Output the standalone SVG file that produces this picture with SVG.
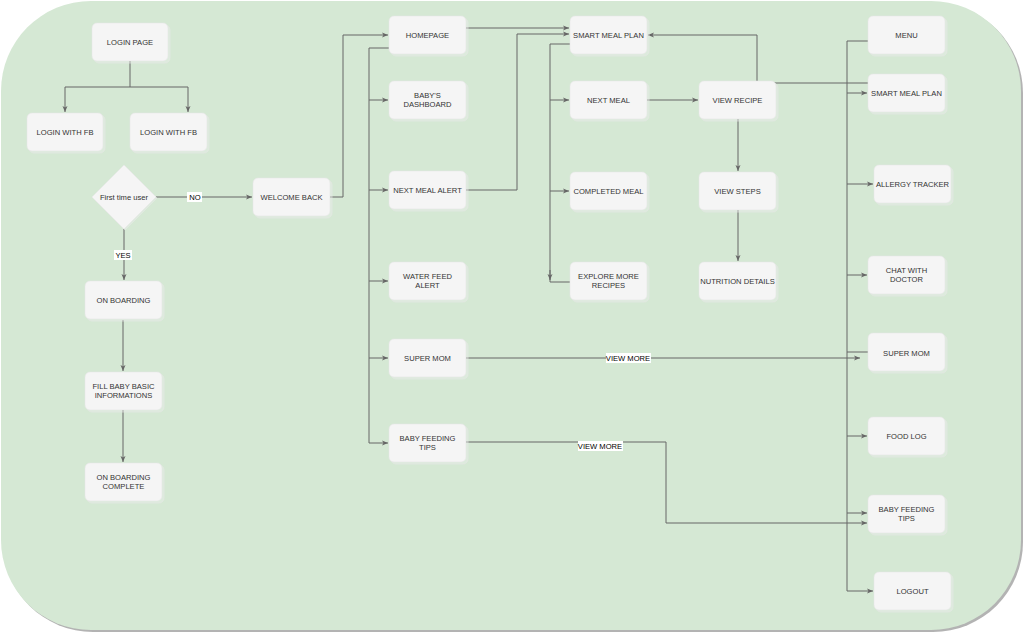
<svg xmlns="http://www.w3.org/2000/svg" width="1024" height="633" viewBox="0 0 1024 633">
<style>
.bg{fill:#d5e8d4}
.bgs{fill:#b3b3b3}
.n rect,.n polygon{fill:#f5f5f5;stroke:#e6e6e6;stroke-width:0.6}
.sh{fill:#000;fill-opacity:0.28}
text{font-family:"Liberation Sans",Arial,sans-serif;font-size:7.6px;fill:#333;text-anchor:middle}
.e path{fill:none;stroke:#666;stroke-width:1}
.a{marker-end:url(#arr)}
.lb{fill:#fff}
.lt{fill:#000}
</style>
<defs>
<marker id="arr" markerUnits="userSpaceOnUse" markerWidth="7" markerHeight="7" refX="6" refY="3" orient="auto">
<path d="M0,0.5 L6,3 L0,5.5 L1.5,3 z" fill="#666"/>
</marker>
</defs>
<rect class="bgs" x="3" y="3" width="1020" height="629" rx="90" ry="90"/>
<rect class="bg" x="1" y="1" width="1020" height="629" rx="90" ry="90"/>

<g id="connectors" class="e">
<path d="M130,61 V87 H65 V112" class="a"/>
<path d="M130,87 H188 V112" class="a"/>
<path d="M156,197 H252" class="a"/>
<path d="M124,229 V280" class="a"/>
<path d="M123,320 V371" class="a"/>
<path d="M123,410 V462" class="a"/>
<path d="M330,197 H343 V35 H388" class="a"/>
<path d="M389,48 H369 V443 H388" class="a"/>
<path d="M369,100 H388" class="a"/>
<path d="M369,190 H388" class="a"/>
<path d="M369,281 H388" class="a"/>
<path d="M369,358 H388" class="a"/>
<path d="M466,28 H569" class="a"/>
<path d="M466,190 H517 V34 H569" class="a"/>
<path d="M570,44 H550 V282 H570"/>
<path d="M550,270 V280" class="a"/>
<path d="M550,100 H569" class="a"/>
<path d="M550,191 H569" class="a"/>
<path d="M647,100 H698" class="a"/>
<path d="M738,119 V171" class="a"/>
<path d="M738,210 V261" class="a"/>
<path d="M868,83 H757 V35 H648" class="a"/>
<path d="M868,41 H847 V591 H873" class="a"/>
<path d="M847,93 H867" class="a"/>
<path d="M847,184 H873" class="a"/>
<path d="M847,275 H867" class="a"/>
<path d="M847,352 H868"/>
<path d="M847,436 H867" class="a"/>
<path d="M847,513 H867" class="a"/>
<path d="M466,358 H860" class="a"/>
<path d="M466,442 H666 V523 H867" class="a"/>
<rect class="lb" x="187" y="192" width="15" height="10"/>
<text x="195" y="200" class="lt">NO</text>
<rect class="lb" x="114" y="250" width="18" height="10"/>
<text x="123" y="258" class="lt">YES</text>
<rect class="lb" x="606" y="353" width="45" height="10"/>
<text x="628" y="361" class="lt">VIEW MORE</text>
<rect class="lb" x="578" y="441" width="45" height="10"/>
<text x="600" y="449" class="lt">VIEW MORE</text>
</g>

<g id="login-page" class="n"><rect class="sh" x="94" y="25" width="76" height="38" rx="5"/><rect x="92" y="23" width="76" height="38" rx="5"/><text x="130" y="44.7">LOGIN PAGE</text></g>
<g id="login-fb-1" class="n"><rect class="sh" x="29" y="115" width="76" height="38" rx="5"/><rect x="27" y="113" width="76" height="38" rx="5"/><text x="65" y="134.7">LOGIN WITH FB</text></g>
<g id="login-fb-2" class="n"><rect class="sh" x="132" y="115" width="77" height="38" rx="5"/><rect x="130" y="113" width="77" height="38" rx="5"/><text x="168.5" y="134.7">LOGIN WITH FB</text></g>
<g id="first-time-user" class="n"><polygon class="sh" points="125,166 157,198 125,230 93,198"/><polygon points="124,165 156,197 124,229 92,197"/><text x="124" y="199.7">First time user</text></g>
<g id="welcome-back" class="n"><rect class="sh" x="255" y="180" width="77" height="38" rx="5"/><rect x="253" y="178" width="77" height="38" rx="5"/><text x="291.5" y="199.7">WELCOME BACK</text></g>
<g id="on-boarding" class="n"><rect class="sh" x="87" y="283" width="77" height="38" rx="5"/><rect x="85" y="281" width="77" height="38" rx="5"/><text x="123.5" y="302.7">ON BOARDING</text></g>
<g id="fill-baby" class="n"><rect class="sh" x="87" y="374" width="77" height="38" rx="5"/><rect x="85" y="372" width="77" height="38" rx="5"/><text x="123.5" y="389.2">FILL BABY BASIC</text><text x="123.5" y="398.2">INFORMATIONS</text></g>
<g id="on-boarding-complete" class="n"><rect class="sh" x="87" y="465" width="77" height="38" rx="5"/><rect x="85" y="463" width="77" height="38" rx="5"/><text x="123.5" y="480.2">ON BOARDING</text><text x="123.5" y="489.2">COMPLETE</text></g>

<g id="homepage" class="n"><rect class="sh" x="391" y="18" width="77" height="38" rx="5"/><rect x="389" y="16" width="77" height="38" rx="5"/><text x="427.5" y="37.7">HOMEPAGE</text></g>
<g id="babys-dashboard" class="n"><rect class="sh" x="391" y="83" width="77" height="38" rx="5"/><rect x="389" y="81" width="77" height="38" rx="5"/><text x="427.5" y="97.7">BABY'S</text><text x="427.5" y="106.7">DASHBOARD</text></g>
<g id="next-meal-alert" class="n"><rect class="sh" x="391" y="173" width="77" height="38" rx="5"/><rect x="389" y="171" width="77" height="38" rx="5"/><text x="427.5" y="192.7">NEXT MEAL ALERT</text></g>
<g id="water-feed-alert" class="n"><rect class="sh" x="391" y="264" width="77" height="38" rx="5"/><rect x="389" y="262" width="77" height="38" rx="5"/><text x="427.5" y="278.7">WATER FEED</text><text x="427.5" y="287.7">ALERT</text></g>
<g id="super-mom" class="n"><rect class="sh" x="391" y="341" width="77" height="38" rx="5"/><rect x="389" y="339" width="77" height="38" rx="5"/><text x="427.5" y="360.7">SUPER MOM</text></g>
<g id="baby-feeding-tips" class="n"><rect class="sh" x="391" y="426" width="77" height="38" rx="5"/><rect x="389" y="424" width="77" height="38" rx="5"/><text x="427.5" y="440.7">BABY FEEDING</text><text x="427.5" y="449.7">TIPS</text></g>

<g id="smart-meal-plan" class="n"><rect class="sh" x="572" y="18" width="77" height="38" rx="5"/><rect x="570" y="16" width="77" height="38" rx="5"/><text x="608.5" y="37.7">SMART MEAL PLAN</text></g>
<g id="next-meal" class="n"><rect class="sh" x="572" y="83" width="77" height="38" rx="5"/><rect x="570" y="81" width="77" height="38" rx="5"/><text x="608.5" y="102.7">NEXT MEAL</text></g>
<g id="completed-meal" class="n"><rect class="sh" x="572" y="174" width="77" height="38" rx="5"/><rect x="570" y="172" width="77" height="38" rx="5"/><text x="608.5" y="193.7">COMPLETED MEAL</text></g>
<g id="explore-more" class="n"><rect class="sh" x="572" y="264" width="77" height="38" rx="5"/><rect x="570" y="262" width="77" height="38" rx="5"/><text x="608.5" y="279.2">EXPLORE MORE</text><text x="608.5" y="288.2">RECIPES</text></g>

<g id="view-recipe" class="n"><rect class="sh" x="701" y="83" width="77" height="38" rx="5"/><rect x="699" y="81" width="77" height="38" rx="5"/><text x="737.5" y="102.7">VIEW RECIPE</text></g>
<g id="view-steps" class="n"><rect class="sh" x="701" y="174" width="77" height="38" rx="5"/><rect x="699" y="172" width="77" height="38" rx="5"/><text x="737.5" y="193.7">VIEW STEPS</text></g>
<g id="nutrition-details" class="n"><rect class="sh" x="701" y="264" width="77" height="38" rx="5"/><rect x="699" y="262" width="77" height="38" rx="5"/><text x="737.5" y="283.7">NUTRITION DETAILS</text></g>

<g id="menu" class="n"><rect class="sh" x="870" y="18" width="77" height="38" rx="5"/><rect x="868" y="16" width="77" height="38" rx="5"/><text x="906.5" y="37.7">MENU</text></g>
<g id="menu-smart-meal-plan" class="n"><rect class="sh" x="870" y="76" width="77" height="38" rx="5"/><rect x="868" y="74" width="77" height="38" rx="5"/><text x="906.5" y="95.7">SMART MEAL PLAN</text></g>
<g id="allergy-tracker" class="n"><rect class="sh" x="876" y="167" width="77" height="38" rx="5"/><rect x="874" y="165" width="77" height="38" rx="5"/><text x="912.5" y="186.7">ALLERGY TRACKER</text></g>
<g id="chat-with-doctor" class="n"><rect class="sh" x="870" y="258" width="77" height="38" rx="5"/><rect x="868" y="256" width="77" height="38" rx="5"/><text x="906.5" y="272.7">CHAT WITH</text><text x="906.5" y="281.7">DOCTOR</text></g>
<g id="menu-super-mom" class="n"><rect class="sh" x="870" y="335" width="77" height="38" rx="5"/><rect x="868" y="333" width="77" height="38" rx="5"/><text x="906.5" y="355.7">SUPER MOM</text></g>
<g id="food-log" class="n"><rect class="sh" x="870" y="419" width="77" height="38" rx="5"/><rect x="868" y="417" width="77" height="38" rx="5"/><text x="906.5" y="438.7">FOOD LOG</text></g>
<g id="menu-baby-feeding-tips" class="n"><rect class="sh" x="870" y="497" width="77" height="38" rx="5"/><rect x="868" y="495" width="77" height="38" rx="5"/><text x="906.5" y="511.7">BABY FEEDING</text><text x="906.5" y="520.7">TIPS</text></g>
<g id="logout" class="n"><rect class="sh" x="876" y="574" width="77" height="38" rx="5"/><rect x="874" y="572" width="77" height="38" rx="5"/><text x="912.5" y="593.7">LOGOUT</text></g>
</svg>
